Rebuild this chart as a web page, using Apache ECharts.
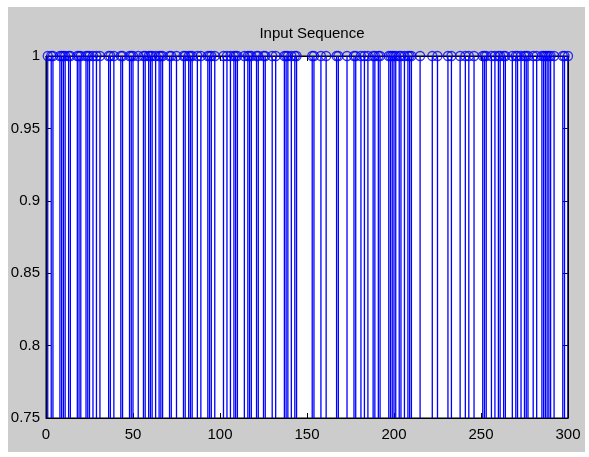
<!DOCTYPE html>
<html>
<head>
<meta charset="utf-8">
<script src="https://cdn.jsdelivr.net/npm/echarts@6/dist/echarts.min.js"></script>
<style>
html,body{margin:0;padding:0;background:#fff;}
#c{width:589px;height:457px;}
</style>
</head>
<body>
<div id="c"></div>
<script>
// Sample indices whose value is 1 (zeros lie below the visible range 0.75..1)
var sampleIndex = [1,3,4,8,9,10,11,13,14,18,19,20,23,24,25,27,29,31,36,37,39,43,44,48,49,50,53,56,57,59,
  60,61,63,65,66,67,71,72,75,79,80,82,83,84,87,89,93,94,95,97,102,104,106,108,109,110,114,116,117,118,
  121,122,125,126,130,132,137,138,139,141,143,144,153,154,158,161,167,168,173,177,178,
  181,183,185,188,189,191,192,197,198,199,200,201,203,204,206,208,209,210,215,222,225,231,233,238,
  241,243,246,251,252,253,256,258,260,261,263,264,268,270,271,273,275,276,277,280,282,285,286,287,288,289,290,292,297,298,300];
var sampleValue = [1,1,1,1,1,1,1,1,1,1,1,1,1,1,1,1,1,1,1,1,1,1,1,1,1,1,1,1,1,1,
  1,1,1,1,1,1,1,1,1,1,1,1,1,1,1,1,1,1,1,1,1,1,1,1,1,1,1,1,1,1,
  1,1,1,1,1,1,1,1,1,1,1,1,1,1,1,1,1,1,1,1,1,
  1,1,1,1,1,1,1,1,1,1,1,1,1,1,1,1,1,1,1,1,1,1,1,1,
  1,1,1,1,1,1,1,1,1,1,1,1,1,1,1,1,1,1,1,1,1,1,1,1,1,1,1,1,1,1,1];
var xTicks = [0, 50, 100, 150, 200, 250, 300];
var yTicks = [0.75, 0.8, 0.85, 0.9, 0.95, 1];
var titleText = 'Input Sequence';

var pts = sampleIndex.map(function(x, i){ return [x, sampleValue[i]]; });
var yMin = yTicks[0], yMax = yTicks[yTicks.length-1];

var chart = echarts.init(document.getElementById('c'), null, {renderer:'canvas'});
var font = 'Liberation Sans, Arial, sans-serif';
var axisCommon = {
  axisLine:{show:true, onZero:false, lineStyle:{color:'#000', width:1}},
  axisTick:{show:true, inside:true, length:5, lineStyle:{color:'#000'}},
  splitLine:{show:false}
};
chart.setOption({
  animation:false,
  graphic:[{type:'rect', z:-10, shape:{x:8, y:7, width:577, height:445}, style:{fill:'#cccccc'}}],
  title:{text:titleText, left:307, top:21, textAlign:'center',
    textStyle:{fontFamily:font, fontSize:15, fontWeight:'normal', color:'#000'}},
  grid:{left:46, right:21, top:56, bottom:39, show:true, backgroundColor:'#fff', borderColor:'#000', borderWidth:1},
  xAxis:[
    Object.assign({type:'value', min:xTicks[0], max:xTicks[xTicks.length-1], interval:50, position:'bottom',
      axisLabel:{fontFamily:font, fontSize:15, color:'#000', margin:9}}, axisCommon),
    Object.assign({type:'value', min:xTicks[0], max:xTicks[xTicks.length-1], interval:50, position:'top',
      axisLabel:{show:false}}, axisCommon)
  ],
  yAxis:[
    Object.assign({type:'value', min:yMin, max:yMax, interval:0.05, position:'left',
      axisLabel:{fontFamily:font, fontSize:15, color:'#000', margin:6,
        formatter:function(v){ return String(parseFloat(v.toFixed(2))); }}}, axisCommon),
    Object.assign({type:'value', min:yMin, max:yMax, interval:0.05, position:'right',
      axisLabel:{show:false}}, axisCommon)
  ],
  series:[
    {
      type:'custom', clip:true,
      data:pts,
      renderItem:function(params, api){
        var x = api.value(0), v = api.value(1);
        var p1 = api.coord([x, yMin]);
        var p2 = api.coord([x, v]);
        return {type:'line', shape:{x1:p1[0], y1:p1[1], x2:p2[0], y2:p2[1]},
          style:{stroke:'#0000ff', lineWidth:1.3}};
      },
      z:2
    },
    {
      type:'scatter', data:pts, symbol:'circle', symbolSize:9, clip:false,
      itemStyle:{color:'rgba(0,0,0,0)', borderColor:'#0000ff', borderWidth:1.3},
      z:3
    }
  ]
});
</script>
</body>
</html>
